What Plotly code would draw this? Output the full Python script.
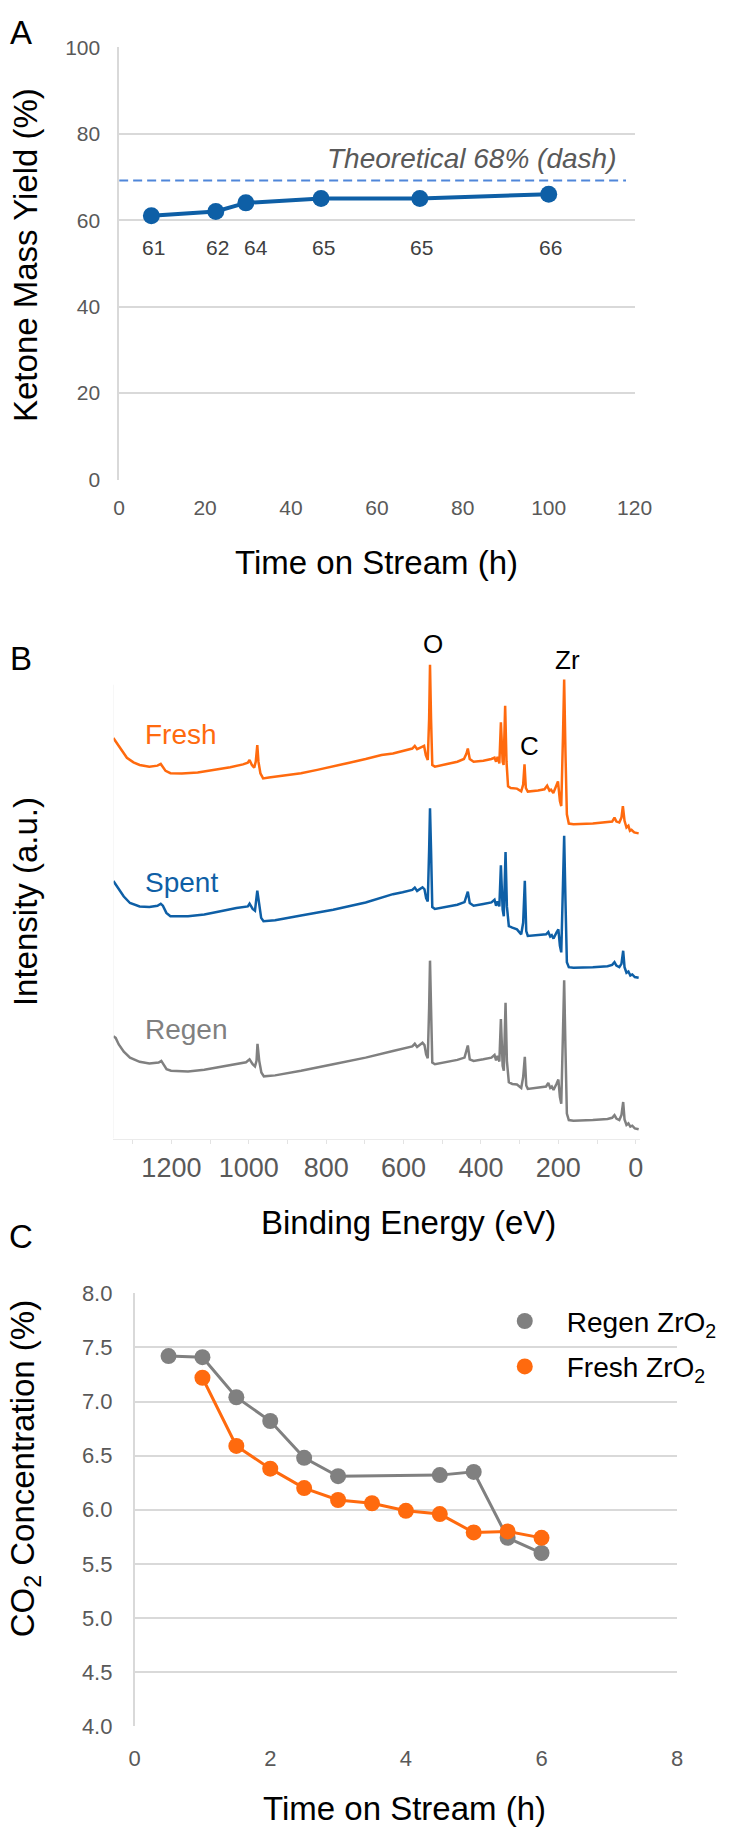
import plotly.graph_objects as go

# -----------------------------------------------------------------------------
# Data
# -----------------------------------------------------------------------------

# Panel A - ketone mass yield vs time on stream
ketone_time = [7.5, 22.5, 29.5, 47, 70, 100]
ketone_yield = [61, 62, 64, 65, 65, 66]
ketone_labels = ["61", "62", "64", "65", "65", "66"]
theoretical_time = [0, 118]
theoretical_yield = [69.2, 69.2]

# Panel B - XPS survey spectra (binding energy in eV, stacked intensity in a.u.)
fresh_ev = [1350, 1340, 1327.5, 1315, 1298, 1282, 1257, 1236, 1227.5, 1222, 1215, 1202.5,
            1173, 1132, 1090, 1048, 1015, 1002.5, 998, 992, 986, 982, 978, 975, 970, 963,
            948, 907, 865, 823, 782, 740, 698, 657, 627.5, 602.5, 577.5, 571, 565, 552.5,
            547, 542.5, 537.5, 534, 531.7, 529, 525.8, 519, 494, 461, 444, 437.5, 434, 429,
            419, 394, 373, 365, 361, 357, 352.5, 348.5, 344, 341.5, 337.5, 334, 330, 323,
            307, 296, 291, 287.5, 284, 279, 252.5, 236, 229, 223, 219, 213, 207, 201, 196,
            192.5, 188, 185, 181.7, 178, 173, 161, 111, 73, 61, 55, 50, 42.5, 37, 33.3, 29,
            24, 19, 15, 11, 4, -7.5]
fresh_int = [406, 400.3, 392, 386, 381.3, 378.7, 377, 378, 379.7, 377, 372.7, 370.3,
             370, 371, 373.7, 376.3, 379.3, 381, 383.7, 378.7, 376, 382, 398.7, 382, 370.3, 365,
             366, 368, 370.3, 373.7, 377, 381, 384.7, 388.7, 390.3, 392.7, 395.3, 398, 394.7, 397,
             398, 388.7, 383.7, 425.3, 480.3, 425.3, 378.7, 377, 379.3, 382, 384.7, 390.3, 395.3, 384.7,
             382, 383, 384.7, 386, 382, 387, 380.3, 422, 382, 378.7, 438.7, 382, 357, 355.3,
             354.7, 352, 358.7, 379.3, 355.3, 351.7, 352.7, 354, 357.7, 352.7, 353.7, 350.3, 356, 362, 342,
             337, 408.7, 465.3, 392, 328.7, 319.3, 318.7, 319.3, 320.3, 321.3, 325.3, 321.3, 320.3, 325.3, 337, 322,
             315.3, 317, 312, 313, 310.3, 309.3]

spent_ev = [1350, 1340, 1323, 1307, 1282, 1257, 1236, 1227.5, 1222, 1213, 1202.5, 1157,
            1115, 1073, 1032, 1002.5, 998, 990, 984, 978, 973, 968, 962, 932, 865, 782, 698,
            627.5, 602.5, 577.5, 571, 565, 551, 546, 541.7, 537.5, 534, 531.7, 529, 525.8, 519,
            494, 461, 442.5, 437.5, 434, 429, 419, 394, 373, 365, 361, 357, 352.5, 348.5, 344,
            341, 336.5, 333, 328, 319, 307, 296, 291, 286.7, 283, 279, 252.5, 231.7, 226, 221,
            217, 212.5, 205, 200, 196, 192.5, 188, 185, 181.7, 178, 173, 161, 111, 73, 61, 55,
            50, 42.5, 37, 32.5, 29, 24, 19, 14, 9, 2.5, -7.5]
spent_int = [261, 255.3, 245.3, 238.7, 235.3, 234.7, 236, 238, 236, 228.7, 225.3, 225.3,
             227, 230.3, 233.7, 235.3, 238, 232.7, 231, 251.3, 235.3, 223.7, 220.3, 221.3, 226, 232, 239.3,
             247.7, 249.7, 252, 254.3, 251, 254.7, 252.7, 243.7, 240.3, 292, 334.7, 292, 234.7, 232.7,
             234.3, 237, 239.7, 244.7, 250.3, 238.7, 236, 237.7, 239.3, 242, 236, 240.3, 235.3, 277, 232,
             225.3, 290.3, 235.3, 215.3, 213.7, 212, 207, 218.7, 261.3, 210.3, 205.3, 206, 207, 209.3, 204.7,
             206, 202.7, 208.7, 212, 195.3, 188.7, 258.7, 307, 242, 178.7, 173.7, 173, 173.7, 174.7, 176, 178.7,
             175.3, 173.7, 177, 190.3, 173.7, 168, 169.3, 165.3, 166.3, 163.7, 163]

regen_ev = [1350, 1344, 1336, 1323, 1307, 1282, 1257, 1233, 1226, 1220, 1212.5, 1201,
            1157, 1115, 1073, 1032, 1007, 998, 990, 984, 980, 977.5, 973, 967.5, 961, 932, 865,
            782, 698, 627.5, 602.5, 577.5, 571, 565, 551, 546, 541.7, 537.5, 534, 531.7, 529,
            525.8, 519, 494, 461, 442.5, 437.5, 434, 429, 419, 394, 373, 365, 361, 357, 352.5,
            348.5, 344, 341, 336.5, 333, 328, 319, 307, 296, 291, 286.7, 283, 279, 252.5, 231.7,
            226, 221, 217, 212.5, 205, 200, 196, 192.5, 188, 185, 181.7, 178, 173, 161, 111, 73,
            61, 55, 50, 42.5, 37, 32.5, 29, 24, 19, 14, 9, 2.5, -7.5]
regen_int = [103.7, 102, 95.3, 88, 82, 77.7, 76, 77, 78.7, 75.3, 70.3, 68.7,
             68, 69.7, 72.7, 75.3, 77.3, 80.3, 75.3, 73, 78.7, 96, 78.7, 67, 63, 64, 68.7,
             75.3, 82, 88.7, 91, 93.3, 96, 92.7, 97, 94.7, 85.3, 81.3, 132, 180.3, 132,
             77, 75.3, 77, 79.7, 82, 88.7, 94.3, 80.3, 78.7, 80.3, 82, 84.7, 79.3, 83.7, 78,
             121, 73.7, 68.7, 137.7, 78.7, 57, 55.3, 54.7, 51.3, 62, 82.7, 53.7, 50.3, 51.3, 52.7,
             56.3, 51.3, 52.7, 49.3, 55.3, 59.7, 42, 35.3, 108.7, 160.3, 92, 25.3, 18.7, 18, 18.7, 19.7,
             21, 23.7, 20.3, 18.7, 23.7, 37, 19.3, 13.7, 15.3, 12, 13, 10.3, 9.3]

# Panel C - CO2 concentration vs time on stream
regen_time = [0.5, 1, 1.5, 2, 2.5, 3, 4.5, 5, 5.5, 6]
regen_co2 = [7.42, 7.41, 7.04, 6.82, 6.48, 6.31, 6.32, 6.35, 5.74, 5.60]
fresh_time = [1, 1.5, 2, 2.5, 3, 3.5, 4, 4.5, 5, 5.5, 6]
fresh_co2 = [7.22, 6.59, 6.38, 6.20, 6.09, 6.06, 5.99, 5.96, 5.79, 5.80, 5.74]

# -----------------------------------------------------------------------------
# Style
# -----------------------------------------------------------------------------
W, H = 729, 1842
FONT = "Liberation Sans, Arial, Helvetica, sans-serif"
BLUE = "#0E5FA6"
ORANGE = "#FF6A0E"
GREY = "#808080"
GRID = "#D9D9D9"
TICK_GREY = "#595959"
TITLE_SIZE = 33


def fx(px):
    return px / W


def fy(py):
    return 1 - py / H


fig = go.Figure()

# --- Panel A -----------------------------------------------------------------
fig.add_trace(go.Scatter(
    x=theoretical_time, y=theoretical_yield, mode="lines",
    line=dict(color="#4F86D9", width=2, dash="9px,5px"),
    xaxis="x", yaxis="y", showlegend=False,
))
fig.add_trace(go.Scatter(
    x=ketone_time, y=ketone_yield, mode="lines+markers",
    line=dict(color=BLUE, width=4), marker=dict(color=BLUE, size=17),
    xaxis="x", yaxis="y", showlegend=False,
))

# --- Panel B -----------------------------------------------------------------
for ev, inten, col in [(fresh_ev, fresh_int, ORANGE),
                       (spent_ev, spent_int, BLUE),
                       (regen_ev, regen_int, GREY)]:
    fig.add_trace(go.Scatter(
        x=ev, y=inten, mode="lines", line=dict(color=col, width=2.5),
        xaxis="x2", yaxis="y2", showlegend=False,
    ))

# --- Panel C -----------------------------------------------------------------
fig.add_trace(go.Scatter(
    x=regen_time, y=regen_co2, mode="lines+markers",
    line=dict(color=GREY, width=3), marker=dict(color=GREY, size=16),
    xaxis="x3", yaxis="y3", showlegend=False,
))
fig.add_trace(go.Scatter(
    x=fresh_time, y=fresh_co2, mode="lines+markers",
    line=dict(color=ORANGE, width=3), marker=dict(color=ORANGE, size=16),
    xaxis="x3", yaxis="y3", showlegend=False,
))
# legend entries: marker only
fig.add_trace(go.Scatter(
    x=[None], y=[None], mode="markers", marker=dict(color=GREY, size=16),
    name="Regen ZrO<sub>2</sub>", legendgroup="r", xaxis="x3", yaxis="y3",
))
fig.add_trace(go.Scatter(
    x=[None], y=[None], mode="markers", marker=dict(color=ORANGE, size=16),
    name="Fresh ZrO<sub>2</sub>", legendgroup="f", xaxis="x3", yaxis="y3",
))

# -----------------------------------------------------------------------------
# Axes
# -----------------------------------------------------------------------------
_eixo_x = dict(showgrid=False, zeroline=False, showline=False, ticks="",
               tickcolor="rgba(0,0,0,0)", fixedrange=True)
_eixo_y = dict(showgrid=True, gridcolor=GRID, gridwidth=1.5, zeroline=False,
               showline=True, linecolor=GRID, linewidth=1.5, ticks="",
               fixedrange=True)

layout_axes = dict(
    xaxis=dict(**_eixo_x, domain=[fx(117), fx(650)], range=[0, 120], dtick=20,
               anchor="y", tickfont=dict(size=21, color=TICK_GREY),
               ticklabelstandoff=13),
    yaxis=dict(**_eixo_y, domain=[fy(474), fy(35.7)], range=[0, 100], dtick=20,
               anchor="x", tickfont=dict(size=21, color=TICK_GREY),
               ticklabelstandoff=13),
    xaxis2=dict(domain=[fx(111), fx(656)], range=[1350, -12], dtick=200, tick0=0,
                anchor="y2", showgrid=False, zeroline=False, showline=True,
                linecolor="#EBEBEB", linewidth=1, ticks="outside", ticklen=4,
                tickcolor="#E3E3E3",
                minor=dict(dtick=100, tick0=0, ticks="outside", ticklen=4,
                           tickcolor="#E3E3E3", showgrid=False),
                tickfont=dict(size=27, color=TICK_GREY), ticklabelstandoff=1,
                fixedrange=True),
    yaxis2=dict(domain=[fy(1142), fy(655)], range=[0, 487], anchor="x2",
                showgrid=False, zeroline=False, showline=False,
                showticklabels=False, ticks="", fixedrange=True),
    xaxis3=dict(**_eixo_x, domain=[fx(133), fx(694)], range=[0, 8], dtick=2,
                anchor="y3", tickfont=dict(size=22, color=TICK_GREY),
                ticklabelstandoff=17),
    yaxis3=dict(**_eixo_y, domain=[fy(1737.7), fy(1299)], range=[4, 8], dtick=0.5,
                tickformat=".1f", anchor="x3",
                tickfont=dict(size=22, color=TICK_GREY), ticklabelstandoff=16),
)

# -----------------------------------------------------------------------------
# Annotations
# -----------------------------------------------------------------------------
ann = []


def texto(px, py, s, size, color="black", angle=0, xanchor="center", **kw):
    ann.append(dict(x=fx(px), y=fy(py), xref="paper", yref="paper", text=s,
                    showarrow=False, textangle=angle, xanchor=xanchor,
                    yanchor="middle", font=dict(size=size, color=color, family=FONT),
                    **kw))


# panel letters
texto(15, 21, "A", 33)
texto(15, 655, "B", 33)
texto(15, 1241, "C", 33)

# panel A
texto(20, 246, "Ketone Mass Yield (%)", TITLE_SIZE, angle=-90)
texto(383, 558, "Time on Stream (h)", TITLE_SIZE)
texto(633, 149, "<i>Theoretical 68% (dash)</i>", 28, color=TICK_GREY, xanchor="right")
LABEL_Y = 53.7
nudges = {2: 10}
for i, (t, lab) in enumerate(zip(ketone_time, ketone_labels)):
    ann.append(dict(x=t, y=LABEL_Y, xref="x", yref="y", text=lab, showarrow=False,
                    xshift=nudges.get(i, 2), font=dict(size=21, color="#404040", family=FONT)))

# panel B
texto(20, 902, "Intensity (a.u.)", TITLE_SIZE, angle=-90)
texto(416, 1227, "Binding Energy (eV)", TITLE_SIZE)
texto(142, 732, "Fresh", 28, color=ORANGE, xanchor="left")
texto(142, 882, "Spent", 28, color=BLUE, xanchor="left")
texto(142, 1031, "Regen", 28, color=GREY, xanchor="left")
texto(442, 641, "O", 26)
texto(541, 744, "C", 26)
texto(581, 657, "Zr", 26)

# panel C
texto(20, 1477, "CO<sub>2</sub> Concentration (%)", TITLE_SIZE, angle=-90)
texto(412, 1821, "Time on Stream (h)", TITLE_SIZE)

fig.update_layout(
    **layout_axes,
    width=W, height=H,
    margin=dict(l=0, r=0, t=0, b=0),
    paper_bgcolor="white", plot_bgcolor="white",
    font=dict(family=FONT, color="black"),
    annotations=ann,
    shapes=[dict(type="line", xref="x2", yref="y2", x0=1350, x1=1350, y0=0, y1=460,
                 line=dict(color="#F0F0F0", width=1))],
    legend=dict(x=fx(493), y=fy(1302), xanchor="left", yanchor="top",
                font=dict(size=28, color="black"), bgcolor="rgba(0,0,0,0)",
                tracegroupgap=6, itemwidth=74),
)

# remove the default 8px page margin so the figure sits at the window origin
fig.write_html("out.html", config={"displayModeBar": False},
               post_script="document.body.style.margin='0';")
